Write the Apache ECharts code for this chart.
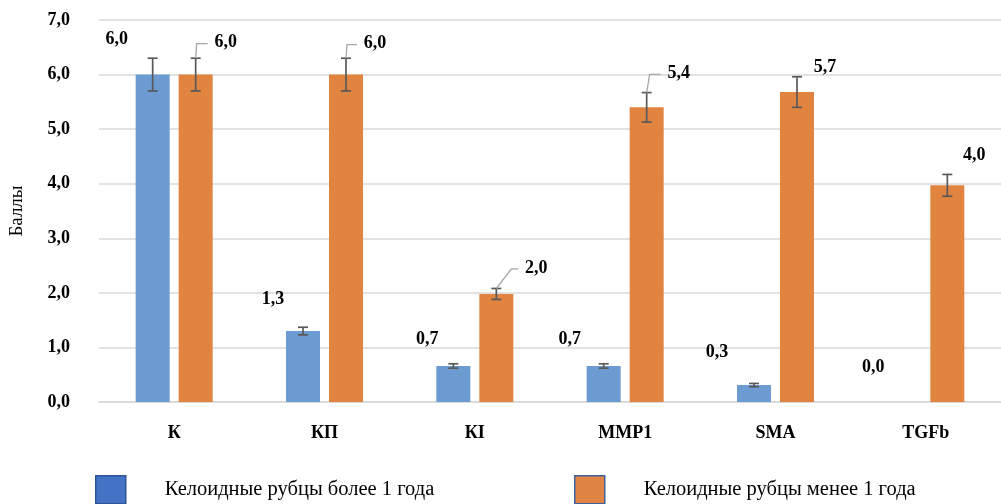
<!DOCTYPE html>
<html><head><meta charset="utf-8">
<script src="https://cdn.jsdelivr.net/npm/echarts@6/dist/echarts.min.js"></script>
<style>html,body{margin:0;padding:0;background:#fff}#c{width:1001px;height:504px}</style>
</head><body><div id="c"></div>
<script>
// ---- data ----
const categories = ['К', 'КП', 'КI', 'MMP1', 'SMA', 'TGFb'];
const seriesNames = ['Келоидные рубцы более 1 года', 'Келоидные рубцы менее 1 года'];
const valuesOver = [6.0, 1.3, 0.66, 0.66, 0.31, 0.0];
const errOver = [0.3, 0.07, 0.04, 0.04, 0.03, 0.0];
const valuesUnder = [6.0, 6.0, 1.98, 5.4, 5.68, 3.97];
const errUnder = [0.3, 0.3, 0.1, 0.27, 0.28, 0.2];
const yTicks = [0, 1, 2, 3, 4, 5, 6, 7];

// ---- style ----
const FONT = '"Liberation Serif", "Times New Roman", serif';
const BAR_W = 34, BAR_GAP = 9;
const HALF = (BAR_W + BAR_GAP) / 2;
const labelShiftOver = [[-36,-35],[-30,-32],[-26,-27],[-34,-27],[-37,-33],[-31,-35]];
const labelShiftUnder = [[30,-32],[29,-31],[40,-26],[32,-34],[28,-25],[27,-30]];
const leaderBend = [1, 1, 15, 3, null, null];
const fmt = v => Number(v).toFixed(1).replace('.', ',');

function errRender(offset, withLeaders, shifts) {
  return function (params, api) {
    const i = api.value(0), m = api.value(1), e = api.value(2);
    const base = api.coord([i, m]);
    const x = base[0] + offset;
    const top = api.coord([i, m + e])[1];
    const bot = api.coord([i, m - e])[1];
    const st = { stroke: '#595959', lineWidth: 1.7 };
    const ch = [];
    if (e > 0) {
      ch.push({ type: 'line', shape: { x1: x, y1: top, x2: x, y2: bot }, style: st });
      ch.push({ type: 'line', shape: { x1: x - 5, y1: top, x2: x + 5, y2: top }, style: st });
      ch.push({ type: 'line', shape: { x1: x - 5, y1: bot, x2: x + 5, y2: bot }, style: st });
    }
    if (withLeaders && leaderBend[i] != null) {
      const s = shifts[i];
      const ly = base[1] + s[1] + 1;
      ch.push({ type: 'polyline', shape: { points: [[x, top], [x + leaderBend[i], ly], [x + s[0] - 18, ly]] },
        style: { stroke: '#a6a6a6', lineWidth: 1.3, fill: null } });
    }
    return { type: 'group', children: ch };
  };
}

const barLabel = {
  show: true, position: 'top', distance: 0, align: 'center', verticalAlign: 'middle',
  fontFamily: FONT, fontWeight: 'bold', fontSize: 18, color: '#000',
  formatter: p => fmt(p.value)
};

const legendText = { fontFamily: FONT, fontSize: 20.5, color: '#000', padding: [0, 0, 0, 34] };

const option = {
  backgroundColor: '#fff',
  animation: false,
  grid: { left: 97, top: 20, width: 915, height: 382 },
  xAxis: {
    type: 'category', data: categories,
    axisLine: { lineStyle: { color: '#d9d9d9', width: 1.5 } },
    axisTick: { show: false },
    axisLabel: { fontFamily: FONT, fontWeight: 'bold', fontSize: 18, color: '#000', margin: 22 }
  },
  yAxis: {
    type: 'value', min: yTicks[0], max: yTicks[yTicks.length - 1], interval: 1,
    name: 'Баллы', nameLocation: 'middle', nameGap: 72,
    nameTextStyle: { fontFamily: FONT, fontSize: 19, color: '#000' },
    axisLine: { show: false }, axisTick: { show: false },
    splitLine: { lineStyle: { color: '#d9d9d9', width: 1.5 } },
    axisLabel: { fontFamily: FONT, fontWeight: 'bold', fontSize: 18, color: '#000', margin: 29, formatter: v => fmt(v) }
  },
  legend: [
    { left: 95, top: 475, padding: 0, itemWidth: 30, itemHeight: 28, selectedMode: false,
      textStyle: legendText,
      data: [{ name: seriesNames[0], icon: 'rect', itemStyle: { color: '#4472c4', borderColor: '#2f5597', borderWidth: 1.5 } }] },
    { left: 574, top: 475, padding: 0, itemWidth: 30, itemHeight: 28, selectedMode: false,
      textStyle: legendText,
      data: [{ name: seriesNames[1], icon: 'rect', itemStyle: { color: '#e08444', borderColor: '#41619e', borderWidth: 1.5 } }] }
  ],
  series: [
    { name: seriesNames[0], type: 'bar', barWidth: BAR_W, barGap: (BAR_GAP / BAR_W * 100) + '%',
      itemStyle: { color: '#6b9bd1' },
      data: valuesOver.map((v, i) => ({ value: v, label: Object.assign({}, barLabel, { offset: labelShiftOver[i] }) })) },
    { name: seriesNames[1], type: 'bar', barWidth: BAR_W,
      itemStyle: { color: '#e0843f' },
      data: valuesUnder.map((v, i) => ({ value: v, label: Object.assign({}, barLabel, { offset: labelShiftUnder[i] }) })) },
    { name: 'errOver', type: 'custom', z: 5, renderItem: errRender(-HALF, false, labelShiftOver),
      encode: { x: 0, y: 1 }, data: valuesOver.map((v, i) => [i, v, errOver[i]]) },
    { name: 'errUnder', type: 'custom', z: 5, renderItem: errRender(HALF, true, labelShiftUnder),
      encode: { x: 0, y: 1 }, data: valuesUnder.map((v, i) => [i, v, errUnder[i]]) }
  ]
};
const chart = echarts.init(document.getElementById('c'), null, { renderer: 'canvas' });
chart.setOption(option);
</script></body></html>
